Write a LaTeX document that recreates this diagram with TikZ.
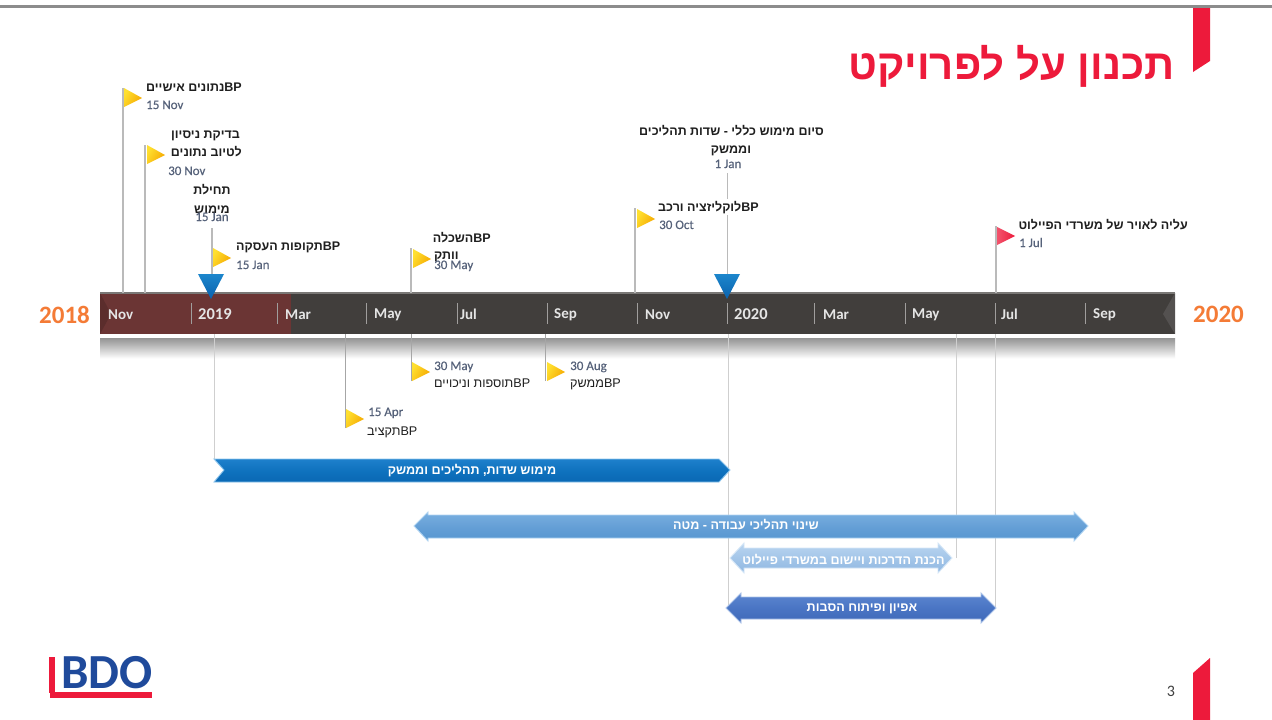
\documentclass[tikz,border=0pt]{standalone}
\usepackage{fontspec}
\setmainfont{Liberation Sans}
\newfontfamily\lat{Carlito}
\newfontfamily\latm[FakeBold=0.35]{Carlito}
\newfontfamily\heb[Script=Hebrew]{Liberation Sans}
\TeXXeTstate=1
\usetikzlibrary{calc}
\definecolor{bdored}{HTML}{ED1A3B}
\definecolor{bdoblue}{HTML}{1F4A9B}
\definecolor{barc}{HTML}{413E3C}
\definecolor{baredge}{HTML}{7A7876}
\definecolor{redo}{HTML}{6B3534}
\definecolor{orng}{HTML}{F47B36}
\definecolor{pole}{HTML}{BABABA}
\definecolor{poled}{HTML}{A6A6A6}
\definecolor{polep}{HTML}{CFCFCF}
\definecolor{datec}{HTML}{56627A}
\definecolor{flagA}{HTML}{FFE030}\definecolor{flagB}{HTML}{F5A800}
\definecolor{aT}{HTML}{1E80CC}\definecolor{aM}{HTML}{0F72BE}\definecolor{aB}{HTML}{0A68B4}\definecolor{aE}{HTML}{8CC4EC}
\definecolor{bT}{HTML}{7AB0E0}\definecolor{bM}{HTML}{659FD6}\definecolor{bB}{HTML}{5596D0}\definecolor{bE}{HTML}{B0D4F2}
\definecolor{cT}{HTML}{BAD5F0}\definecolor{cM}{HTML}{A4C6E9}\definecolor{cB}{HTML}{8FB7E1}\definecolor{cE}{HTML}{D6E7F7}
\definecolor{dT}{HTML}{5C86D0}\definecolor{dM}{HTML}{4A75C4}\definecolor{dB}{HTML}{3E68B8}\definecolor{dE}{HTML}{A9C1E8}
\definecolor{mT}{HTML}{1C86CC}\definecolor{mB}{HTML}{0A62AE}
\pgfdeclareverticalshading{refl}{100bp}{color(0bp)=(white);color(26bp)=(white);color(60bp)=(black!30);color(75bp)=(black!42);color(100bp)=(black!42)}
\pgfdeclareverticalshading{ashade}{100bp}{color(0bp)=(aB);color(25bp)=(aB);color(50bp)=(aM);color(75bp)=(aT);color(100bp)=(aT)}
\pgfdeclareverticalshading{bshade}{100bp}{color(0bp)=(bB);color(25bp)=(bB);color(50bp)=(bM);color(75bp)=(bT);color(100bp)=(bT)}
\pgfdeclareverticalshading{cshade}{100bp}{color(0bp)=(cB);color(25bp)=(cB);color(50bp)=(cM);color(75bp)=(cT);color(100bp)=(cT)}
\pgfdeclareverticalshading{dshade}{100bp}{color(0bp)=(dB);color(25bp)=(dB);color(50bp)=(dM);color(75bp)=(dT);color(100bp)=(dT)}
\pgfdeclareverticalshading{mshade}{100bp}{color(0bp)=(mB);color(25bp)=(mB);color(75bp)=(mT);color(100bp)=(mT)}
\newcommand{\R}[1]{\beginR #1\endR}
\newcommand{\BP}{\beginL BP\endL}
\tikzset{
  polel/.style={draw=pole,line width=1.1pt},
  poledark/.style={draw=poled,line width=1pt},
  polepale/.style={draw=polep,line width=1pt},
  tick/.style={draw=white!50!barc,line width=.8pt},
  mon/.style={font=\lat\bfseries\fontsize{15}{15}\selectfont,text=white!90!black,anchor=west,inner sep=0pt},
  yrnew/.style={mon,font=\lat\bfseries\fontsize{16.5}{16.5}\selectfont},
  yr/.style={font=\lat\bfseries\fontsize{25}{25}\selectfont,text=orng,inner sep=0pt},
  lab/.style={font=\heb\bfseries\fontsize{12.5}{12.5}\selectfont,text=black!88,inner sep=0pt,text height=8pt,text depth=0pt},
  lablight/.style={lab,font=\heb\fontsize{12.6}{12.6}\selectfont},
  dat/.style={font=\latm\fontsize{13}{13}\selectfont,text=datec,inner sep=0pt,text height=8pt,text depth=0pt},
  barlab/.style={font=\heb\bfseries\fontsize{12.6}{12.6}\selectfont,text=white,inner sep=0pt,text height=8pt,text depth=0pt},
  flagy/.style={left color=flagA,right color=flagB,shading angle=60},
  flagr/.style={left color=bdored!75!white,right color=bdored},
}
\begin{document}
\begin{tikzpicture}[x=1pt,y=-1pt]
\useasboundingbox (0,0) rectangle (1272,720);
\fill[white] (0,0) rectangle (1272,720);
% top line and tabs
\fill[black!45] (0,5) rectangle (1272,8);
\fill[bdored] (1193,8) -- (1210,8) -- (1210,61) -- (1193,72) -- cycle;
\fill[bdored] (1193,673) -- (1210,658) -- (1210,720) -- (1193,720) -- cycle;
\node[anchor=base east,font=\heb\bfseries\fontsize{42}{42}\selectfont,text=bdored,inner sep=0pt] (title) at (1175,79) {\R{תכנון על לפרויקט}};
\node[font=\lat\fontsize{16}{16}\selectfont,text=black!75,inner sep=0pt] (pg) at (1171,691) {3};
% logo
\fill[bdored] (49,657) rectangle (55,693);
\fill[bdored] (50,692) rectangle (152,698);
\node[anchor=base west,font=\lat\bfseries\fontsize{49}{49}\selectfont,text=bdoblue,inner sep=0pt] (bdo) at (61,688) {BDO};
% bar reflection
\shade[shading=refl] (100,338) rectangle (1175,359);
% bar
\node[fill=barc,minimum width=1075pt,minimum height=41pt,inner sep=0pt,anchor=north west] (bar) at (100,293) {};
\fill[redo] (100,293) rectangle (291,334);
\fill[redo!85!black] (100,293) -- (111,314) -- (100,334) -- cycle;
\fill[barc!90!white] (1175,293) -- (1175,334) -- (1163,314) -- cycle;
\draw[baredge,line width=1.4pt] (bar.north west) -- (bar.north east);
% poles above
\coordinate (pa) at (123,88);
\coordinate (pb) at (145,145);
\coordinate (pc) at (212,228);
\coordinate (pd) at (411,248);
\coordinate (pe) at (635,208);
\coordinate (pf) at (727.5,173);
\coordinate (pg2) at (996,226);
\foreach \p in {pa,pb,pc,pd,pe,pf,pg2}{\draw[polel] (\p) -- (\p |- bar.north);}
% poles below
\coordinate (qa) at (214,459);
\coordinate (qb) at (345,428);
\coordinate (qc) at (411,381);
\coordinate (qd) at (545,381);
\coordinate (qe) at (728,611);
\coordinate (qf) at (956,558);
\coordinate (qg) at (995,608);
\foreach \p in {qb,qc,qd}{\draw[poledark] (\p) -- (\p |- bar.south);}
\foreach \p in {qa,qe,qf,qg}{\draw[polepale] (\p) -- (\p |- bar.south);}
% ticks
\foreach \x in {191,277,366,457,547,637,727,814,905,995,1085}{\draw[tick] (\x,303) -- (\x,324);}
% months
\foreach \x/\t in {108/Nov,285/Mar,374/May,460/Jul,554/Sep,645/Nov,823/Mar,912/May,1001/Jul,1093/Sep}{\node[mon] at (\x,314.5) {\t};}
\foreach \x/\t in {198/2019,734/2020}{\node[yrnew] at (\x,314) {\t};}
\node[yr,anchor=west] (y18) at (39,314.5) {2018};
\node[yr,anchor=west] (y20) at (1193,314.5) {2020};
% blue markers
\foreach \x in {211,727}{\shade[shading=mshade] (\x-13,274) -- (\x+13,274) -- (\x,299) -- cycle;}
% flags
\foreach \x/\y in {124/88,147/145,213/248,413/249,637/209,412/362,547/362,346/409}{\shade[flagy] (\x,\y) -- (\x+18,\y+10) -- (\x,\y+19) -- cycle;}
\shade[flagr] (997,227) -- (1015,236) -- (997,245) -- cycle;
% upper labels
\node[lab,anchor=west] (a1) at (146,87) {\R{\BP נתונים אישיים}};
\node[dat,anchor=west] (a2) at (146,105) {15 Nov};
\node[lab,anchor=east] (b1) at (240,134) {\R{בדיקת ניסיון}};
\node[lab,anchor=east] (b2) at (242,152) {\R{לטיוב נתונים}};
\node[dat,anchor=west] (b3) at (168,171) {30 Nov};
\node[lab] (c1) at (212,190) {\R{תחילת}};
\node[lab] (c2) at (212,209) {\R{מימוש}};
\node[dat] (c3) at (212,217) {15 Jan};
\node[lab,anchor=west] (d1) at (236,246) {\R{\BP תקופות העסקה}};
\node[dat,anchor=west] (d2) at (236,265) {15 Jan};
\node[lab,anchor=east] (e1) at (491,238) {\R{\BP השכלה}};
\node[lab,anchor=west] (e2) at (434,255) {\R{וותק}};
\node[dat,anchor=west] (e3) at (434,265) {30 May};
\node[lab,anchor=west,fill=white,inner ysep=4pt] (f1) at (658,207) {\R{\BP לוקליזציה ורכב}};
\node[dat,anchor=west] (f2) at (659,225) {30 Oct};
\node[lab] (g1) at (731.5,131) {\R{סיום מימוש כללי - שדות תהליכים}};
\node[lab] (g2) at (731,149) {\R{וממשק}};
\node[dat] (g3) at (728,164) {1 Jan};
\node[lab,anchor=east] (h1) at (1188,225) {\R{עליה לאויר של משרדי הפיילוט}};
\node[dat,anchor=west] (h2) at (1019,243) {1 Jul};
% lower labels
\node[dat,anchor=west] (i1) at (434,366) {30 May};
\node[lablight,anchor=west] (i2) at (434,383) {\R{\BP תוספות וניכויים}};
\node[dat,anchor=west] (j1) at (570,366) {30 Aug};
\node[lablight,anchor=west] (j2) at (570,383) {\R{\BP ממשק}};
\node[dat,anchor=west] (k1) at (368,412) {15 Apr};
\node[lablight,anchor=west] (k2) at (367,431) {\R{\BP תקציב}};
% arrows
\shade[draw=aE,line width=.9pt,shading=ashade]
 (214,459) -- (719,459) -- (730,470) -- (719,482) -- (214,482) -- (224,470) -- cycle;
\node[barlab] (ar1) at (472,470) {\R{מימוש שדות, תהליכים וממשק}};
\shade[draw=bE,line width=.9pt,shading=bshade]
 (414,526) -- (428,512) -- (428,515) -- (1074,515) -- (1074,512) -- (1088,526) -- (1074,541) -- (1074,538) -- (428,538) -- (428,541) -- cycle;
\node[barlab] (ar2) at (746,525) {\R{שינוי תהליכי עבודה - מטה}};
\shade[draw=cE,line width=.9pt,shading=cshade]
 (730,558) -- (744,543) -- (744,548) -- (938,548) -- (938,543) -- (952,558) -- (938,573) -- (938,568) -- (744,568) -- (744,573) -- cycle;
\node[barlab] (ar3) at (843.5,560) {\R{הכנת הדרכות ויישום במשרדי פיילוט}};
\shade[draw=dE,line width=.9pt,shading=dshade]
 (726,608) -- (741,593) -- (741,597) -- (981,597) -- (981,593) -- (996,608) -- (981,623) -- (981,619) -- (741,619) -- (741,623) -- cycle;
\node[barlab] (ar4) at (862,607) {\R{אפיון ופיתוח הסבות}};
\end{tikzpicture}
\end{document}
